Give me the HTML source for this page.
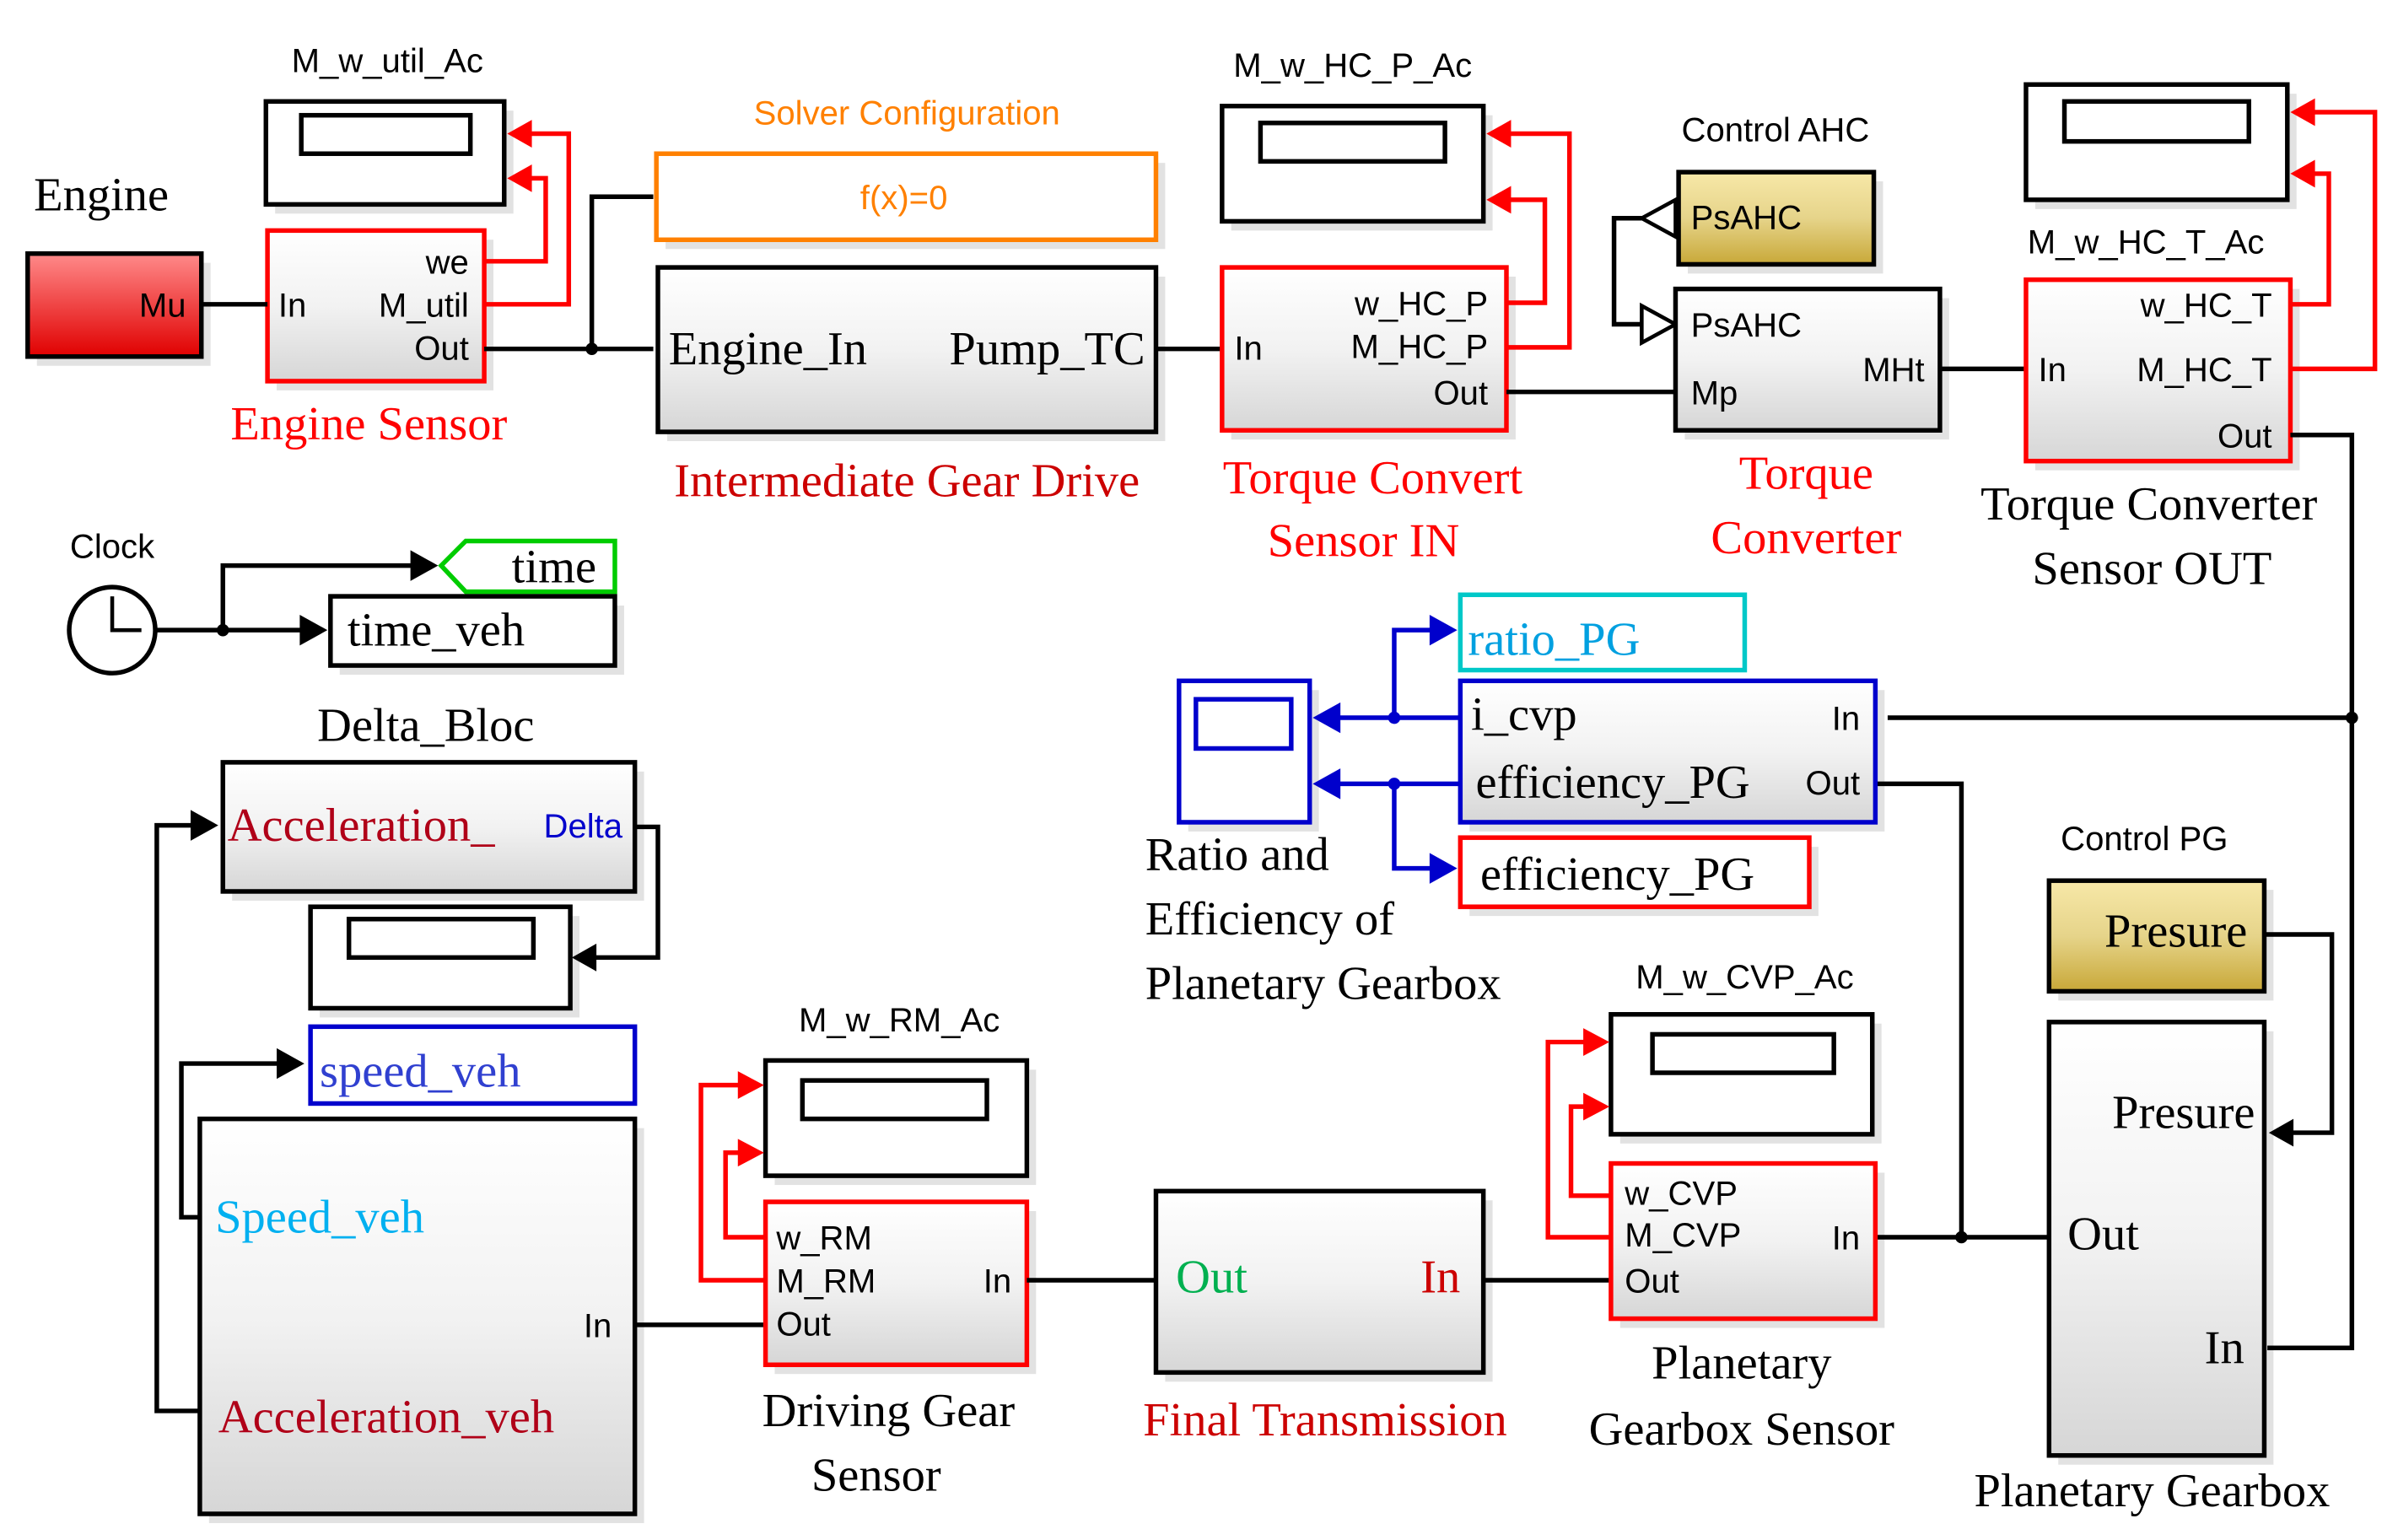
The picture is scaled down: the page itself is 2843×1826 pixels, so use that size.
<!DOCTYPE html>
<html><head><meta charset="utf-8"><style>
html,body{margin:0;padding:0;background:#fff;}
svg{display:block;}
.s{font-family:"Liberation Sans",sans-serif;font-size:22px;}
.r{font-family:"Liberation Serif",serif;font-size:31px;}
</style></head><body>
<svg width="2843" height="1826" viewBox="0 0 1560 1002" preserveAspectRatio="none" xmlns="http://www.w3.org/2000/svg">
<defs>
<linearGradient id="g" x1="0" y1="0" x2="0" y2="1"><stop offset="0" stop-color="#ffffff"/><stop offset="0.5" stop-color="#f2f2f2"/><stop offset="1" stop-color="#d6d6d6"/></linearGradient>
<linearGradient id="rd" x1="0" y1="0" x2="0" y2="1"><stop offset="0" stop-color="#ff8a8a"/><stop offset="1" stop-color="#e00000"/></linearGradient>
<linearGradient id="yl" x1="0" y1="0" x2="0" y2="1"><stop offset="0" stop-color="#f7e8a8"/><stop offset="0.5" stop-color="#e6d48a"/><stop offset="1" stop-color="#c8a838"/></linearGradient>
</defs>
<g fill="#e2e2e2">
<rect x="179" y="72" width="155" height="67"/><rect x="180" y="156" width="141" height="98"/><rect x="24" y="171" width="113" height="67"/>
<rect x="433" y="106" width="325" height="56"/><rect x="434" y="180" width="324" height="107"/>
<rect x="801" y="75" width="170" height="75"/><rect x="801" y="180" width="185" height="106"/>
<rect x="1098" y="118" width="127" height="60"/><rect x="1096" y="194" width="172" height="92"/>
<rect x="1324" y="61" width="170" height="75"/><rect x="1324" y="188" width="172" height="118"/>
<rect x="221" y="394" width="185" height="45"/><rect x="151" y="502" width="268" height="84"/>
<rect x="208" y="596" width="169" height="66"/><rect x="136" y="734" width="283" height="257"/>
<rect x="504" y="696" width="170" height="75"/><rect x="504" y="788" width="170" height="106"/>
<rect x="758" y="781" width="213" height="118"/><rect x="1054" y="666" width="170" height="78"/><rect x="1054" y="763" width="172" height="101"/>
<rect x="1339" y="579" width="140" height="72"/><rect x="1339" y="671" width="140" height="282"/>
<rect x="773" y="449" width="85" height="92"/><rect x="956" y="449" width="270" height="92"/><rect x="956" y="551" width="227" height="45"/>
</g>
<!-- Engine -->
<text x="22" y="137" class="r" fill="#000" font-size="33">Engine</text>
<rect x="18" y="165" width="113" height="67" fill="url(#rd)" stroke="#000" stroke-width="3"/>
<text x="121" y="206" class="s" fill="#000" text-anchor="end" font-size="24">Mu</text>
<!-- M_w_util -->
<text x="252" y="47" class="s" text-anchor="middle">M_w_util_Ac</text>
<rect x="173" y="66" width="155" height="67" fill="#fff" stroke="#000" stroke-width="3"/>
<rect x="196" y="75" width="110" height="25" fill="#fff" stroke="#000" stroke-width="3"/>
<!-- Engine sensor -->
<rect x="174" y="150" width="141" height="98" fill="url(#g)" stroke="#f00" stroke-width="3"/>
<text x="305" y="178" class="s" text-anchor="end">we</text>
<text x="181" y="206" class="s">In</text>
<text x="305" y="206" class="s" text-anchor="end">M_util</text>
<text x="305" y="234" class="s" text-anchor="end">Out</text>
<text x="240" y="286" class="r" fill="#f00" text-anchor="middle">Engine Sensor</text>
<g fill="none" stroke="#f00" stroke-width="3">
<polyline points="315,170 355,170 355,116 340,116"/><polyline points="315,198 370,198 370,87 340,87"/>
</g>
<g fill="#f00"><polygon points="330,116 346,107 346,125"/><polygon points="330,87 346,78 346,96"/></g>
<g fill="none" stroke="#000" stroke-width="3">
<line x1="131" y1="198" x2="174" y2="198"/>
<polyline points="315,227 425,227"/><polyline points="385,227 385,128 425,128"/>
</g>
<circle cx="385" cy="227" r="4"/>
<!-- Solver -->
<text x="590" y="81" class="s" fill="#ff8000" text-anchor="middle">Solver Configuration</text>
<rect x="427" y="100" width="325" height="56" fill="#fff" stroke="#ff8000" stroke-width="3"/>
<text x="588" y="136" class="s" fill="#ff8000" text-anchor="middle" font-size="24">f(x)=0</text>
<!-- Intermediate -->
<rect x="428" y="174" width="324" height="107" fill="url(#g)" stroke="#000" stroke-width="3"/>
<text x="435" y="237" class="r" font-size="32">Engine_In</text>
<text x="745" y="237" class="r" font-size="32" text-anchor="end">Pump_TC</text>
<text x="590" y="323" class="r" fill="#c00" text-anchor="middle">Intermediate Gear Drive</text>
<line x1="752" y1="227" x2="795" y2="227" stroke="#000" stroke-width="3"/>
<!-- HC_P -->
<text x="880" y="50" class="s" text-anchor="middle">M_w_HC_P_Ac</text>
<rect x="795" y="69" width="170" height="75" fill="#fff" stroke="#000" stroke-width="3"/>
<rect x="820" y="80" width="120" height="25" fill="#fff" stroke="#000" stroke-width="3"/>
<rect x="795" y="174" width="185" height="106" fill="url(#g)" stroke="#f00" stroke-width="3"/>
<text x="968" y="205" class="s" text-anchor="end">w_HC_P</text>
<text x="803" y="234" class="s">In</text>
<text x="968" y="233" class="s" text-anchor="end">M_HC_P</text>
<text x="968" y="263" class="s" text-anchor="end">Out</text>
<g fill="none" stroke="#f00" stroke-width="3">
<polyline points="980,197 1005,197 1005,130 980,130"/><polyline points="980,226 1021,226 1021,87 980,87"/>
</g>
<g fill="#f00"><polygon points="967,130 983,121 983,139"/><polygon points="967,87 983,78 983,96"/></g>
<text x="893" y="321" class="r" fill="#f00" text-anchor="middle">Torque Convert</text>
<text x="887" y="362" class="r" fill="#f00" text-anchor="middle">Sensor IN</text>
<line x1="980" y1="255" x2="1090" y2="255" stroke="#000" stroke-width="3"/>
<!-- Control AHC -->
<text x="1155" y="92" class="s" text-anchor="middle">Control AHC</text>
<rect x="1092" y="112" width="127" height="60" fill="url(#yl)" stroke="#000" stroke-width="3"/>
<text x="1100" y="149" class="s" font-size="24">PsAHC</text>
<g fill="#fff" stroke="#000" stroke-width="2.5">
<polygon points="1068,142 1090,130 1090,154"/><polygon points="1090,211 1068,199 1068,223"/>
</g>
<polyline points="1068,142 1050,142 1050,211 1068,211" fill="none" stroke="#000" stroke-width="3"/>
<rect x="1090" y="188" width="172" height="92" fill="url(#g)" stroke="#000" stroke-width="3"/>
<text x="1100" y="219" class="s" font-size="24">PsAHC</text>
<text x="1100" y="263" class="s" font-size="24">Mp</text>
<text x="1252" y="248" class="s" text-anchor="end">MHt</text>
<text x="1175" y="318" class="r" fill="#f00" text-anchor="middle">Torque</text>
<text x="1175" y="360" class="r" fill="#f00" text-anchor="middle">Converter</text>
<line x1="1262" y1="240" x2="1318" y2="240" stroke="#000" stroke-width="3"/>
<!-- HC_T -->
<rect x="1318" y="55" width="170" height="75" fill="#fff" stroke="#000" stroke-width="3"/>
<rect x="1343" y="66" width="120" height="26" fill="#fff" stroke="#000" stroke-width="3"/>
<text x="1396" y="165" class="s" text-anchor="middle">M_w_HC_T_Ac</text>
<rect x="1318" y="182" width="172" height="118" fill="url(#g)" stroke="#f00" stroke-width="3"/>
<text x="1478" y="206" class="s" text-anchor="end">w_HC_T</text>
<text x="1326" y="248" class="s">In</text>
<text x="1478" y="248" class="s" text-anchor="end">M_HC_T</text>
<text x="1478" y="291" class="s" text-anchor="end">Out</text>
<g fill="none" stroke="#f00" stroke-width="3">
<polyline points="1490,198 1515,198 1515,113 1500,113"/><polyline points="1490,240 1545,240 1545,73 1500,73"/>
</g>
<g fill="#f00"><polygon points="1490,113 1506,104 1506,122"/><polygon points="1490,73 1506,64 1506,82"/></g>
<text x="1398" y="338" class="r" text-anchor="middle">Torque Converter</text>
<text x="1400" y="380" class="r" text-anchor="middle">Sensor OUT</text>
<g fill="none" stroke="#000" stroke-width="3">
<polyline points="1490,283 1530,283 1530,877 1475,877"/>
<line x1="1530" y1="467" x2="1228" y2="467"/>
<polyline points="1220,510 1276,510 1276,805"/>
<line x1="1220" y1="805" x2="1333" y2="805"/>
<polyline points="1473,608 1517,608 1517,737 1490,737"/>
</g>
<circle cx="1530" cy="467" r="4"/><circle cx="1276" cy="805" r="4"/>
<polygon points="1476,737 1492,728 1492,746"/>
<!-- Clock -->
<text x="73" y="363" class="s" text-anchor="middle">Clock</text>
<circle cx="73" cy="410" r="28" fill="#fff" stroke="#000" stroke-width="3"/>
<polyline points="73,388 73,410 92,410" fill="none" stroke="#000" stroke-width="2.5"/>
<g fill="none" stroke="#000" stroke-width="3">
<line x1="101" y1="410" x2="200" y2="410"/><polyline points="145,410 145,368 272,368"/>
</g>
<circle cx="145" cy="410" r="4"/>
<polygon points="213,410 195,400 195,420"/><polygon points="285,368 267,358 267,378"/>
<polygon points="287,368 303,352 400,352 400,385 303,385" fill="#fff" stroke="#0c0" stroke-width="3"/>
<text x="388" y="379" class="r" font-size="27" text-anchor="end">time</text>
<rect x="215" y="388" width="185" height="45" fill="#fff" stroke="#000" stroke-width="3"/>
<text x="226" y="420" class="r" font-size="27">time_veh</text>
<!-- Delta -->
<text x="277" y="482" class="r" font-size="29" text-anchor="middle">Delta_Bloc</text>
<rect x="145" y="496" width="268" height="84" fill="url(#g)" stroke="#000" stroke-width="3"/>
<text x="148" y="547" class="r" font-size="29" fill="#b00018">Acceleration_</text>
<text x="405" y="545" class="s" fill="#00c" text-anchor="end" font-size="24">Delta</text>
<polyline points="413,538 428,538 428,623 385,623" fill="none" stroke="#000" stroke-width="3"/>
<polygon points="372,623 388,614 388,632"/>
<rect x="202" y="590" width="169" height="66" fill="#fff" stroke="#000" stroke-width="3"/>
<rect x="227" y="598" width="120" height="25" fill="#fff" stroke="#000" stroke-width="3"/>
<rect x="202" y="668" width="211" height="50" fill="#fff" stroke="#00c" stroke-width="3"/>
<text x="208" y="707" class="r" font-size="29" fill="#3040d0">speed_veh</text>
<g fill="none" stroke="#000" stroke-width="3">
<polyline points="130,792 118,792 118,692 182,692"/><polyline points="130,918 102,918 102,537 128,537"/>
<line x1="413" y1="862" x2="497" y2="862"/>
</g>
<polygon points="198,692 180,682 180,702"/><polygon points="142,537 124,527 124,547"/>
<rect x="130" y="728" width="283" height="257" fill="url(#g)" stroke="#000" stroke-width="3"/>
<text x="140" y="802" class="r" font-size="31" fill="#00b0f0">Speed_veh</text>
<text x="398" y="870" class="s" font-size="24" text-anchor="end">In</text>
<text x="142" y="932" class="r" font-size="29" fill="#b00018">Acceleration_veh</text>
<!-- RM -->
<text x="585" y="671" class="s" text-anchor="middle">M_w_RM_Ac</text>
<rect x="498" y="690" width="170" height="75" fill="#fff" stroke="#000" stroke-width="3"/>
<rect x="522" y="703" width="120" height="25" fill="#fff" stroke="#000" stroke-width="3"/>
<rect x="498" y="782" width="170" height="106" fill="url(#g)" stroke="#f00" stroke-width="3"/>
<text x="505" y="813" class="s">w_RM</text>
<text x="505" y="841" class="s">M_RM</text>
<text x="505" y="869" class="s">Out</text>
<text x="658" y="841" class="s" text-anchor="end">In</text>
<g fill="none" stroke="#f00" stroke-width="3">
<polyline points="498,805 472,805 472,750 484,750"/><polyline points="498,833 456,833 456,706 484,706"/>
</g>
<g fill="#f00"><polygon points="497,750 480,741 480,759"/><polygon points="497,706 480,697 480,715"/></g>
<text x="578" y="928" class="r" text-anchor="middle">Driving Gear</text>
<text x="570" y="970" class="r" text-anchor="middle">Sensor</text>
<line x1="668" y1="833" x2="752" y2="833" stroke="#000" stroke-width="3"/>
<!-- Final -->
<rect x="752" y="775" width="213" height="118" fill="url(#g)" stroke="#000" stroke-width="3"/>
<text x="765" y="841" class="r" fill="#00b050">Out</text>
<text x="950" y="841" class="r" fill="#c00" text-anchor="end">In</text>
<text x="862" y="934" class="r" fill="#c00" text-anchor="middle">Final Transmission</text>
<line x1="965" y1="833" x2="1047" y2="833" stroke="#000" stroke-width="3"/>
<!-- CVP -->
<text x="1135" y="643" class="s" text-anchor="middle">M_w_CVP_Ac</text>
<rect x="1048" y="660" width="170" height="78" fill="#fff" stroke="#000" stroke-width="3"/>
<rect x="1075" y="673" width="118" height="25" fill="#fff" stroke="#000" stroke-width="3"/>
<rect x="1048" y="757" width="172" height="101" fill="url(#g)" stroke="#f00" stroke-width="3"/>
<text x="1057" y="784" class="s">w_CVP</text>
<text x="1057" y="811" class="s">M_CVP</text>
<text x="1057" y="841" class="s">Out</text>
<text x="1210" y="813" class="s" text-anchor="end">In</text>
<g fill="none" stroke="#f00" stroke-width="3">
<polyline points="1048,778 1022,778 1022,720 1034,720"/><polyline points="1048,805 1007,805 1007,678 1034,678"/>
</g>
<g fill="#f00"><polygon points="1047,720 1030,711 1030,729"/><polygon points="1047,678 1030,669 1030,687"/></g>
<text x="1133" y="897" class="r" text-anchor="middle">Planetary</text>
<text x="1133" y="940" class="r" text-anchor="middle">Gearbox Sensor</text>
<!-- Ratio / PG -->
<rect x="950" y="387" width="185" height="49" fill="#fff" stroke="#00c8c8" stroke-width="3"/>
<text x="955" y="426" class="r" font-size="29" fill="#00a0e0">ratio_PG</text>
<rect x="950" y="443" width="270" height="92" fill="url(#g)" stroke="#00c" stroke-width="3"/>
<text x="957" y="475" class="r" font-size="28">i_cvp</text>
<text x="1210" y="475" class="s" text-anchor="end">In</text>
<text x="960" y="519" class="r" font-size="29">efficiency_PG</text>
<text x="1210" y="517" class="s" text-anchor="end">Out</text>
<rect x="950" y="545" width="227" height="45" fill="#fff" stroke="#f00" stroke-width="3"/>
<text x="963" y="579" class="r" font-size="29">efficiency_PG</text>
<rect x="767" y="443" width="85" height="92" fill="#fff" stroke="#00c" stroke-width="3"/>
<rect x="778" y="455" width="62" height="32" fill="#fff" stroke="#00c" stroke-width="3"/>
<g fill="none" stroke="#00c" stroke-width="3">
<line x1="950" y1="467" x2="868" y2="467"/><polyline points="907,467 907,410 932,410"/>
<line x1="950" y1="510" x2="868" y2="510"/><polyline points="907,510 907,565 932,565"/>
</g>
<g fill="#00c"><circle cx="907" cy="467" r="4"/><circle cx="907" cy="510" r="4"/>
<polygon points="854,467 872,457 872,477"/><polygon points="854,510 872,500 872,520"/>
<polygon points="948,410 930,400 930,420"/><polygon points="948,565 930,555 930,575"/></g>
<text x="745" y="566" class="r">Ratio and</text>
<text x="745" y="608" class="r">Efficiency of</text>
<text x="745" y="650" class="r">Planetary Gearbox</text>
<!-- Control PG -->
<text x="1395" y="553" class="s" text-anchor="middle">Control PG</text>
<rect x="1333" y="573" width="140" height="72" fill="url(#yl)" stroke="#000" stroke-width="3"/>
<text x="1462" y="616" class="r" text-anchor="end">Presure</text>
<rect x="1333" y="665" width="140" height="282" fill="url(#g)" stroke="#000" stroke-width="3"/>
<text x="1467" y="734" class="r" font-size="29" text-anchor="end">Presure</text>
<text x="1345" y="813" class="r" font-size="29">Out</text>
<text x="1460" y="887" class="r" font-size="29" text-anchor="end">In</text>
<text x="1400" y="980" class="r" text-anchor="middle">Planetary  Gearbox</text>
</svg>
</body></html>
